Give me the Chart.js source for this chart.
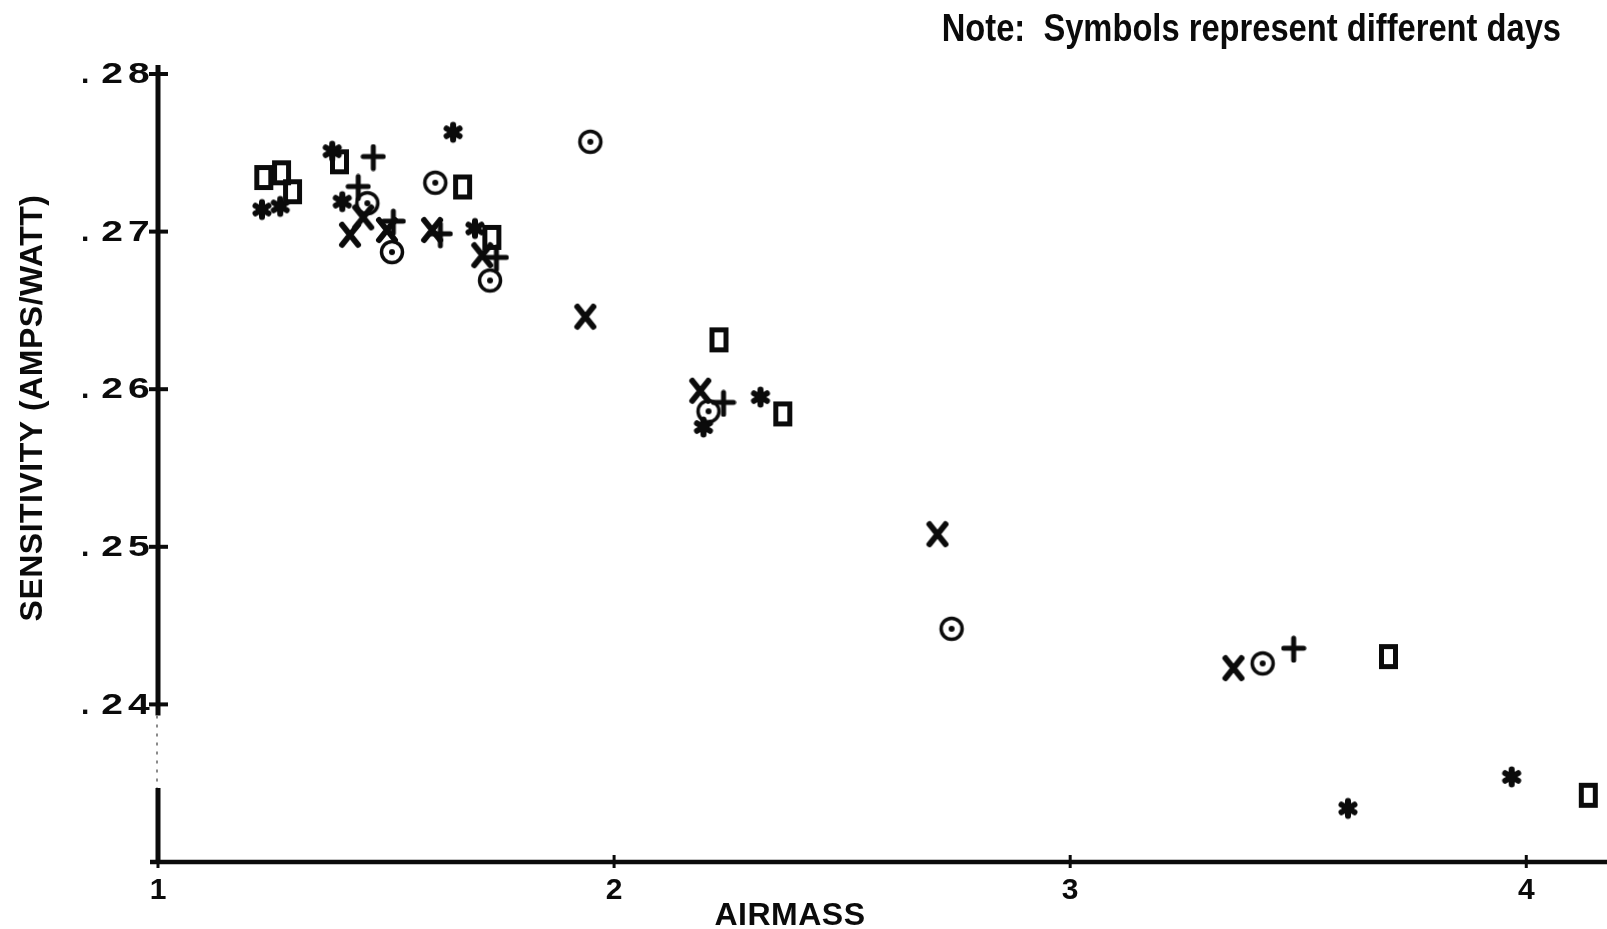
<!DOCTYPE html>
<html>
<head>
<meta charset="utf-8">
<script src="https://cdn.jsdelivr.net/npm/chart.js@4.4.1/dist/chart.umd.min.js"></script>
<style>
  html, body { margin: 0; padding: 0; background: #fff; }
  #wrap { width: 1607px; height: 929px; position: relative; }
</style>
</head>
<body>
<div id="wrap"><canvas id="sensChart"></canvas></div>
<script>
// readings, one pair of arrays per plotting symbol (each symbol = a different day)
const squareAirmass = [1.233, 1.272, 1.296, 1.399, 1.669, 1.733, 2.231, 2.371, 3.699, 4.137];
const squareSens = [0.2734, 0.2737, 0.2725, 0.2744, 0.2728, 0.2696, 0.2631, 0.2584, 0.2430, 0.2342];

const starAirmass = [1.228, 1.268, 1.382, 1.404, 1.647, 1.695, 2.196, 2.321, 3.609, 3.968];
const starSens = [0.2714, 0.2716, 0.2751, 0.2719, 0.2763, 0.2702, 0.2576, 0.2595, 0.2334, 0.2354];

const plusAirmass = [1.472, 1.439, 1.516, 1.619, 1.742, 2.240, 3.490];
const plusSens = [0.2747, 0.2728, 0.2706, 0.2698, 0.2683, 0.2591, 0.2435];

const crossAirmass = [1.421, 1.450, 1.502, 1.601, 1.711, 1.937, 2.189, 2.709, 3.358];
const crossSens = [0.2698, 0.2709, 0.2701, 0.2701, 0.2685, 0.2646, 0.2599, 0.2508, 0.2423];

const circleAirmass = [1.459, 1.513, 1.608, 1.728, 1.948, 2.207, 2.740, 3.422];
const circleSens = [0.2718, 0.2687, 0.2731, 0.2669, 0.2757, 0.2586, 0.2448, 0.2426];

const xTickValues = [1, 2, 3, 4];
const xTickLabels = ["1", "2", "3", "4"];
const yTickValues = [0.24, 0.25, 0.26, 0.27, 0.28];
const yTickLabels = [".24", ".25", ".26", ".27", ".28"];

const INK = "#0b0b0b";
const TEXT_FONT = '"Liberation Sans", Arial, sans-serif';

function glyph(w, h, draw) {
  const c = document.createElement("canvas");
  c.width = w;
  c.height = h;
  const g = c.getContext("2d");
  g.strokeStyle = INK;
  g.fillStyle = INK;
  g.lineCap = "round";
  draw(g, w, h);
  return c;
}

const squareMark = glyph(24, 30, (g) => {
  g.lineWidth = 5;
  g.strokeRect(4.5, 4.5, 14, 20);
});
const crossMark = glyph(24, 28, (g) => {
  g.lineWidth = 6;
  g.beginPath();
  g.moveTo(4, 4); g.lineTo(20, 24);
  g.moveTo(20, 4); g.lineTo(4, 24);
  g.stroke();
});
const plusMark = glyph(26, 28, (g) => {
  g.lineWidth = 5;
  g.beginPath();
  g.moveTo(13, 3); g.lineTo(13, 25);
  g.moveTo(3, 13); g.lineTo(23, 13);
  g.stroke();
});
const starMark = glyph(24, 24, (g) => {
  g.lineWidth = 6;
  g.beginPath();
  for (let a = 0; a < 3; a++) {
    const t = Math.PI / 2 + a * Math.PI / 3;
    g.moveTo(12 + 7.5 * Math.cos(t), 12 + 7.5 * Math.sin(t));
    g.lineTo(12 - 7.5 * Math.cos(t), 12 - 7.5 * Math.sin(t));
  }
  g.stroke();
  g.beginPath();
  g.arc(12, 12, 6, 0, Math.PI * 2);
  g.fill();
});
const circleMark = glyph(28, 28, (g) => {
  g.lineWidth = 3.5;
  g.beginPath();
  g.arc(14, 14, 10.5, 0, Math.PI * 2);
  g.stroke();
  g.beginPath();
  g.arc(14, 14, 3, 0, Math.PI * 2);
  g.fill();
});

function pairs(xs, ys) {
  return xs.map((x, i) => ({ x, y: ys[i] }));
}

function series(label, xs, ys, mark) {
  return {
    label,
    data: pairs(xs, ys),
    pointStyle: mark,
    pointRadius: 10,
    pointHoverRadius: 10,
    showLine: false,
  };
}

// plotter-style axes: heavy lines with ticks crossing the axis
const plotterAxes = {
  id: "plotterAxes",
  beforeDatasetsDraw(chart) {
    const { ctx, chartArea, scales } = chart;
    const xs = scales.x, ys = scales.y;
    const ax = chartArea.left, ay = chartArea.bottom;
    ctx.save();
    ctx.strokeStyle = INK;
    ctx.lineCap = "butt";

    // y axis, faint stretch just below .24
    const yTop = ys.getPixelForValue(0.28) - 9;
    const gapA = ys.getPixelForValue(0.2393);
    const gapB = ys.getPixelForValue(0.2347);
    ctx.lineWidth = 5;
    ctx.beginPath();
    ctx.moveTo(ax, yTop); ctx.lineTo(ax, gapA);
    ctx.moveTo(ax, gapB); ctx.lineTo(ax, ay);
    ctx.stroke();
    ctx.strokeStyle = "#8a8a8a";
    ctx.lineWidth = 2;
    ctx.setLineDash([3, 6]);
    ctx.beginPath();
    ctx.moveTo(ax - 1, gapA); ctx.lineTo(ax - 1, gapB);
    ctx.stroke();
    ctx.setLineDash([]);
    ctx.strokeStyle = INK;

    ctx.lineWidth = 4;
    yTickValues.forEach((v) => {
      const p = ys.getPixelForValue(v);
      ctx.beginPath();
      ctx.moveTo(ax - 9, p); ctx.lineTo(ax + 10, p);
      ctx.stroke();
    });

    // x axis
    ctx.lineWidth = 4.5;
    ctx.beginPath();
    ctx.moveTo(ax - 8, ay); ctx.lineTo(chartArea.right, ay);
    ctx.stroke();
    ctx.lineWidth = 3;
    xTickValues.forEach((v) => {
      const p = xs.getPixelForValue(v);
      ctx.beginPath();
      ctx.moveTo(p, ay - 7); ctx.lineTo(p, ay + 6);
      ctx.stroke();
    });

    // y tick labels: wide blocky digits, dot set apart like the plotter did
    ctx.fillStyle = INK;
    ctx.font = `bold 30px ${TEXT_FONT}`;
    ctx.textBaseline = "middle";
    yTickValues.forEach((v, i) => {
      const p = ys.getPixelForValue(v) + 1;
      const label = yTickLabels[i];
      ctx.save();
      ctx.translate(ax - 3, p);
      ctx.scale(1.3, 1);
      ctx.letterSpacing = "4px";
      ctx.textAlign = "right";
      ctx.fillText(label.slice(1), 0, 0);
      ctx.restore();
      ctx.letterSpacing = "0px";
      ctx.textAlign = "left";
      ctx.fillText(label.slice(0, 1), ax - 77, p);
    });
    ctx.restore();
  },
  afterDraw(chart) {
    const { ctx, chartArea } = chart;
    ctx.save();
    ctx.fillStyle = INK;

    ctx.font = `bold 32px ${TEXT_FONT}`;
    ctx.letterSpacing = "0.5px";
    ctx.textAlign = "center";
    ctx.textBaseline = "alphabetic";
    ctx.fillText("AIRMASS", chartArea.left + 632, 925);

    ctx.save();
    ctx.translate(42, 408);
    ctx.rotate(-Math.PI / 2);
    ctx.fillText("SENSITIVITY (AMPS/WATT)", 0, 0);
    ctx.restore();

    // condensed heading: squeeze a bold face horizontally
    ctx.letterSpacing = "0px";
    ctx.font = `bold 38px ${TEXT_FONT}`;
    ctx.textAlign = "right";
    ctx.translate(1561, 41);
    ctx.scale(0.86, 1);
    ctx.fillText("Note:  Symbols represent different days", 0, 0);
    ctx.restore();
  },
};

const ctx = document.getElementById("sensChart").getContext("2d");
new Chart(ctx, {
  type: "scatter",
  data: {
    datasets: [
      series("Day A", squareAirmass, squareSens, squareMark),
      series("Day B", starAirmass, starSens, starMark),
      series("Day C", plusAirmass, plusSens, plusMark),
      series("Day D", crossAirmass, crossSens, crossMark),
      series("Day E", circleAirmass, circleSens, circleMark),
    ],
  },
  options: {
    responsive: true,
    maintainAspectRatio: false,
    animation: false,
    clip: false,
    layout: { autoPadding: false, padding: { top: 74, right: 0, bottom: 0, left: 0 } },
    plugins: {
      legend: { display: false },
      tooltip: { enabled: false },
    },
    scales: {
      x: {
        type: "linear",
        min: 1,
        max: 4.177,
        grid: { display: false },
        border: { display: false },
        afterBuildTicks: (scale) => {
          scale.ticks = xTickValues.map((value) => ({ value }));
        },
        afterFit: (scale) => { scale.height = 67; },
        ticks: {
          color: INK,
          padding: 3,
          maxRotation: 0,
          font: { family: TEXT_FONT, size: 30, weight: "bold" },
          callback: (value, index) => xTickLabels[index],
        },
      },
      y: {
        type: "linear",
        min: 0.23,
        max: 0.28,
        grid: { display: false },
        border: { display: false },
        afterBuildTicks: (scale) => {
          scale.ticks = yTickValues.map((value) => ({ value }));
        },
        afterFit: (scale) => { scale.width = 158; },
        ticks: { display: false },
      },
    },
  },
  plugins: [plotterAxes],
});
</script>
</body>
</html>
